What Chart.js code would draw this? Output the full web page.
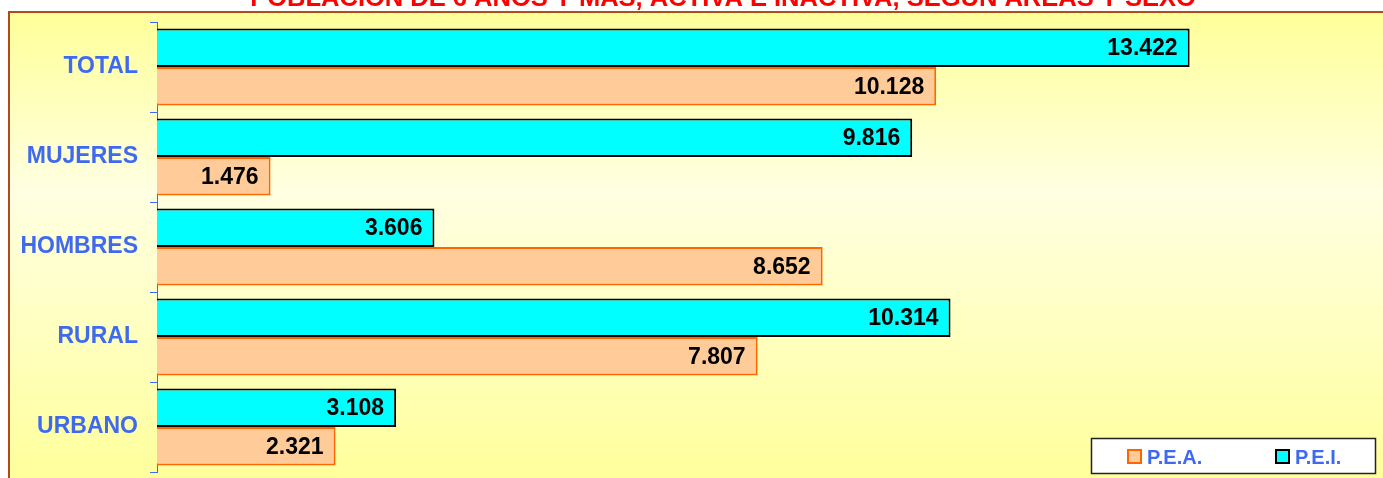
<!DOCTYPE html>
<html lang="es">
<head>
<meta charset="utf-8">
<title>Población de 6 años y más, activa e inactiva</title>
<script src="https://cdn.jsdelivr.net/npm/chart.js@4.4.1/dist/chart.umd.min.js"></script>
<style>
  html, body { margin: 0; padding: 0; background: #ffffff; overflow: hidden; }
  #wrap { position: relative; width: 1383px; height: 478px; overflow: hidden; }
  canvas { position: absolute; left: 0; top: 0; }
</style>
</head>
<body>
<div id="wrap">
  <canvas id="grafico" width="1400" height="490"></canvas>
</div>
<script>
// Datos del gráfico
const categorias = ['TOTAL', 'MUJERES', 'HOMBRES', 'RURAL', 'URBANO'];
const valoresPEI = [13422, 9816, 3606, 10314, 3108];
const valoresPEA = [10128, 1476, 8652, 7807, 2321];
const titulo = 'POBLACIÓN DE 6 AÑOS Y MÁS, ACTIVA E INACTIVA, SEGÚN ÁREAS Y SEXO';

const AZUL = '#3f6af0';
const FUENTE = '"Liberation Sans", Arial, sans-serif';

// 13422 -> "13.422"
function formatoMiles(n) {
    return String(n).replace(/\B(?=(\d{3})+(?!\d))/g, '.');
}

/* Fondo amarillo del área del gráfico con borde marrón */
const fondoPlugin = {
    id: 'fondo',
    beforeDraw(chart) {
        const c = chart.ctx;
        c.save();
        const grad = c.createLinearGradient(0, 11, 0, 490);
        grad.addColorStop(0, '#ffff99');
        grad.addColorStop(0.38, '#ffffe2');
        grad.addColorStop(1, '#ffff99');
        c.fillStyle = grad;
        c.fillRect(8, 11, chart.width, chart.height);
        c.strokeStyle = '#b04a18';
        c.lineWidth = 2;
        c.strokeRect(9, 12, chart.width + 10, chart.height + 10);

        // título (recortado arriba como en el original)
        c.fillStyle = '#ff0000';
        c.font = 'bold 25.5px ' + FUENTE;
        c.textAlign = 'center';
        c.textBaseline = 'alphabetic';
        c.fillText(titulo, 723, 6);
        c.restore();
    }
};

/* Etiquetas de valor dentro del extremo de cada barra */
const etiquetasPlugin = {
    id: 'etiquetas',
    afterDatasetsDraw(chart) {
        const c = chart.ctx;
        c.save();
        c.font = 'bold 23px ' + FUENTE;
        c.fillStyle = '#000000';
        c.textAlign = 'right';
        c.textBaseline = 'middle';
        chart.data.datasets.forEach((ds, i) => {
            chart.getDatasetMeta(i).data.forEach((bar, j) => {
                c.fillText(formatoMiles(ds.data[j]), bar.x - 12, bar.y + 1);
            });
        });
        c.restore();
    }
};

/* Leyenda en recuadro blanco abajo a la derecha */
const leyendaPlugin = {
    id: 'leyendaCaja',
    afterDraw(chart) {
        const c = chart.ctx;
        c.save();
        c.fillStyle = '#ffffff';
        c.fillRect(1091, 438, 285, 36);
        c.strokeStyle = '#222222';
        c.lineWidth = 1.5;
        c.strokeRect(1091.5, 438.5, 284, 35);
        c.font = 'bold 20px ' + FUENTE;
        c.textBaseline = 'middle';
        c.textAlign = 'left';
        // orden de la leyenda: P.E.A. primero
        const orden = [1, 0];
        const xs = [1128, 1276];
        orden.forEach((idx, k) => {
            const ds = chart.data.datasets[idx];
            c.fillStyle = ds.backgroundColor;
            c.fillRect(xs[k], 450, 13, 13);
            c.strokeStyle = ds.borderColor;
            c.lineWidth = 2;
            c.strokeRect(xs[k], 450, 13, 13);
            c.fillStyle = AZUL;
            c.fillText(ds.label, xs[k] + 19, 458);
        });
        c.restore();
    }
};

new Chart(document.getElementById('grafico'), {
    type: 'bar',
    data: {
        labels: categorias,
        datasets: [
            {
                label: 'P.E.I.',
                data: valoresPEI,
                backgroundColor: '#00ffff',
                borderColor: '#000000',
                borderWidth: 2,
                borderSkipped: 'start'
            },
            {
                label: 'P.E.A.',
                data: valoresPEA,
                backgroundColor: '#ffcc99',
                borderColor: '#ff6600',
                borderWidth: 2,
                borderSkipped: 'start'
            }
        ]
    },
    options: {
        indexAxis: 'y',
        responsive: false,
        animation: false,
        layout: { padding: { top: 22, right: 12, bottom: 18, left: 0 } },
        datasets: { bar: { categoryPercentage: 0.856, barPercentage: 1 } },
        scales: {
            x: {
                display: false,
                min: 0,
                max: 16000
            },
            y: {
                afterFit(scale) {
                    scale.width = 157;
                    scale.paddingTop = 0;
                    scale.paddingBottom = 0;
                },
                grid: {
                    display: true,
                    drawOnChartArea: false,
                    drawTicks: true,
                    tickLength: 7,
                    color: AZUL,
                    offset: true
                },
                border: { display: true, color: AZUL, width: 1 },
                ticks: {
                    color: AZUL,
                    padding: 12,
                    font: { family: FUENTE, size: 23, weight: 'bold' }
                }
            }
        },
        plugins: {
            legend: { display: false },
            tooltip: { enabled: false },
            title: { display: false }
        }
    },
    plugins: [fondoPlugin, etiquetasPlugin, leyendaPlugin]
});
</script>
</body>
</html>
